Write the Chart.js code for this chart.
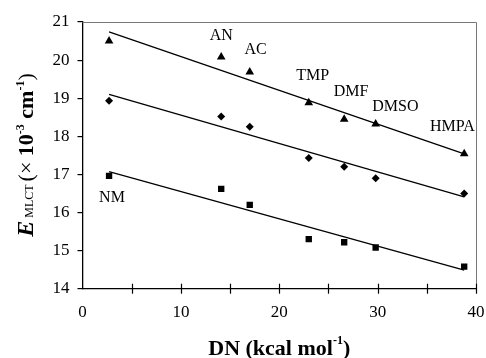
<!DOCTYPE html>
<html>
<head>
<meta charset="utf-8">
<script src="https://cdn.jsdelivr.net/npm/chart.js@4/dist/chart.umd.min.js"></script>
<style>
  html, body { margin: 0; padding: 0; background: #fff; }
  #wrap { width: 486px; height: 358px; }
</style>
</head>
<body>
<div id="wrap"><canvas id="chart" width="486" height="358"></canvas></div>
<script>
// solvents and donor numbers
const solvents = ["NM", "AN", "AC", "TMP", "DMF", "DMSO", "HMPA"];
const donorNumbers = [2.7, 14.1, 17.0, 23.0, 26.6, 29.8, 38.8];

// E_MLCT values (x 10^-3 cm^-1) for the three complexes
const triangleValues = [20.5, 20.08, 19.69, 18.88, 18.45, 18.32, 17.54];
const diamondValues = [18.93, 18.52, 18.25, 17.43, 17.2, 16.9, 16.5];
const squareValues = [16.96, 16.62, 16.2, 15.3, 15.22, 15.08, 14.58];

// fitted line end points
const fitX = [2.7, 38.8];
const triangleFit = [20.74, 17.54];
const diamondFit = [19.1, 16.41];
const squareFit = [17.07, 14.49];

// solvent label anchor points (data units)
const labelX = [3.0, 14.1, 17.6, 23.4, 27.3, 31.8, 37.6];
const labelY = [16.38, 20.63, 20.27, 19.58, 19.16, 18.77, 18.24];

const xTicks = [0, 10, 20, 30, 40];
const yTicks = [14, 15, 16, 17, 18, 19, 20, 21];

const SERIF = "'Liberation Serif', 'Times New Roman', serif";

function toPoints(xs, ys) {
  return xs.map((x, i) => ({ x, y: ys[i] }));
}

function scatterSet(values, style, radius) {
  return {
    type: "scatter",
    data: toPoints(donorNumbers, values),
    pointStyle: style,
    pointRadius: radius,
    backgroundColor: "#000",
    borderColor: "#000",
    borderWidth: 0,
  };
}

function fitSet(values) {
  return {
    type: "line",
    data: toPoints(fitX, values),
    borderColor: "#000",
    borderWidth: 1.3,
    pointRadius: 0,
    fill: false,
  };
}

// draws the frame, crossing x ticks, solvent labels and axis titles
const decorations = {
  id: "decorations",
  afterDraw(chart) {
    const { ctx, chartArea: a, scales } = chart;
    const x = scales.x, y = scales.y;
    ctx.save();

    // gray top and right frame
    ctx.strokeStyle = "#777";
    ctx.lineWidth = 1;
    ctx.beginPath();
    ctx.moveTo(a.left, a.top + 0.5);
    ctx.lineTo(a.right + 0.5, a.top + 0.5);
    ctx.lineTo(a.right + 0.5, a.bottom);
    ctx.stroke();

    // x ticks crossing the axis
    ctx.strokeStyle = "#000";
    ctx.lineWidth = 1.2;
    for (let v = 5; v <= 40; v += 5) {
      const px = Math.round(x.getPixelForValue(v)) + 0.5;
      ctx.beginPath();
      ctx.moveTo(px, a.bottom - 5);
      ctx.lineTo(px, a.bottom + 5);
      ctx.stroke();
    }

    // solvent labels
    ctx.fillStyle = "#000";
    ctx.font = "16px " + SERIF;
    ctx.textAlign = "center";
    ctx.textBaseline = "middle";
    solvents.forEach((s, i) => {
      ctx.fillText(s, x.getPixelForValue(labelX[i]), y.getPixelForValue(labelY[i]));
    });

    // x axis title: DN (kcal mol-1)
    const xParts = [
      { t: "DN (kcal mol", f: "bold 22px " + SERIF, dy: 0 },
      { t: "-1", f: "bold 12px " + SERIF, dy: -8 },
      { t: ")", f: "bold 22px " + SERIF, dy: 0 },
    ];
    drawParts(ctx, xParts, (a.left + a.right) / 2, 349);

    // y axis title: E MLCT (x 10-3 cm-1)
    ctx.save();
    ctx.translate(33, 155);
    ctx.rotate(-Math.PI / 2);
    const yParts = [
      { t: "E", f: "italic bold 24px " + SERIF, dy: 0 },
      { t: " MLCT ", f: "12px " + SERIF, dy: 0 },
      { t: "(\u00d7 ", f: "22px " + SERIF, dy: 0 },
      { t: "10", f: "bold 22px " + SERIF, dy: 0 },
      { t: "-3", f: "bold 12px " + SERIF, dy: -9 },
      { t: " cm", f: "bold 22px " + SERIF, dy: 0 },
      { t: "-1", f: "bold 12px " + SERIF, dy: -9 },
      { t: ")", f: "22px " + SERIF, dy: 0 },
    ];
    drawParts(ctx, yParts, 0, 0, "alphabetic");
    ctx.restore();

    ctx.restore();
  },
};

function drawParts(ctx, parts, cx, cy, baseline) {
  ctx.textAlign = "left";
  ctx.textBaseline = baseline || "middle";
  let total = 0;
  parts.forEach((p) => {
    ctx.font = p.f;
    p.w = ctx.measureText(p.t).width;
    total += p.w;
  });
  let px = cx - total / 2;
  parts.forEach((p) => {
    ctx.font = p.f;
    ctx.fillText(p.t, px, cy + p.dy);
    px += p.w;
  });
}

new Chart(document.getElementById("chart"), {
  data: {
    datasets: [
      fitSet(triangleFit),
      fitSet(diamondFit),
      fitSet(squareFit),
      scatterSet(triangleValues, "triangle", 5),
      scatterSet(diamondValues, "rectRot", 4),
      scatterSet(squareValues, "rect", 4.5),
    ],
  },
  options: {
    responsive: false,
    animation: false,
    layout: { padding: { top: 22, right: 10, left: 0, bottom: 0 } },
    plugins: {
      legend: { display: false },
      tooltip: { enabled: false },
    },
    scales: {
      x: {
        type: "linear",
        min: 0,
        max: 40,
        afterFit(scale) {
          scale.height = 69.3;
          scale.paddingLeft = 0;
          scale.paddingRight = 0;
        },
        afterBuildTicks(scale) { scale.ticks = xTicks.map((v) => ({ value: v })); },
        grid: { display: false, drawTicks: false },
        border: { display: true, color: "#000", width: 1.3 },
        ticks: {
          color: "#000",
          padding: 14,
          maxRotation: 0,
          font: { family: SERIF, size: 17 },
        },
      },
      y: {
        type: "linear",
        min: 14,
        max: 21,
        afterFit(scale) {
          scale.width = 82.5;
          scale.paddingTop = 0;
          scale.paddingBottom = 0;
        },
        afterBuildTicks(scale) { scale.ticks = yTicks.map((v) => ({ value: v })); },
        grid: { drawOnChartArea: false, tickLength: 5, color: "#000", lineWidth: 1.2 },
        border: { display: true, color: "#000", width: 1.3 },
        ticks: {
          color: "#000",
          padding: 8,
          font: { family: SERIF, size: 17 },
        },
      },
    },
  },
  plugins: [decorations],
});
</script>
</body>
</html>
